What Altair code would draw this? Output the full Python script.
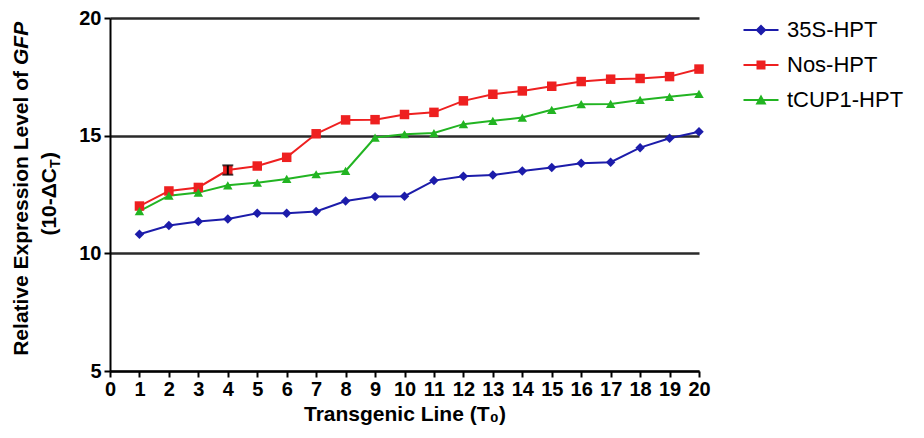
import altair as alt
import pandas as pd

# ---------------- data ----------------
lines_x = list(range(1, 21))
series_names = ["35S-HPT", "Nos-HPT", "tCUP1-HPT"]
vals_35s = [10.81, 11.18, 11.35, 11.46, 11.70, 11.70, 11.78, 12.22, 12.41, 12.43,
            13.09, 13.28, 13.33, 13.50, 13.65, 13.83, 13.87, 14.49, 14.89, 15.17]
vals_nos = [12.01, 12.65, 12.80, 13.54, 13.71, 14.08, 15.08, 15.67, 15.68, 15.90,
            15.99, 16.48, 16.76, 16.90, 17.10, 17.30, 17.40, 17.43, 17.51, 17.83]
vals_tcup = [11.79, 12.45, 12.58, 12.89, 13.00, 13.16, 13.36, 13.50, 14.92, 15.06,
             15.11, 15.49, 15.63, 15.77, 16.10, 16.34, 16.35, 16.52, 16.65, 16.78]
err_line = [4]
err_center = [13.54]
err_half = [0.2]
x_ticks = list(range(0, 21))
y_ticks = [5, 10, 15, 20]

x_title = "Transgenic Line (T₀)"
y_title_main = ["Relative Expression Level of"]
y_title_ital = ["GFP"]
y_title2_main = ["(10-ΔC"]
y_title2_sub = ["T"]
y_title2_close = [")"]

colors = ["#1C1CAA", "#EE2020", "#22B422"]
point_shapes = ["diamond", "square", "triangle-up"]
legend_shapes = [
    "M-1.75,-0.1H1.75V0.1H-1.75Z M0,-0.55L0.55,0L0,0.55L-0.55,0Z",
    "M-1.75,-0.1H1.75V0.1H-1.75Z M-0.45,-0.45H0.45V0.45H-0.45Z",
    "M-1.75,-0.1H1.75V0.1H-1.75Z M0,-0.55L0.55,0.45L-0.55,0.45Z",
]

rows = []
for name, vals in zip(series_names, [vals_35s, vals_nos, vals_tcup]):
    for x, v in zip(lines_x, vals):
        rows.append({"line": x, "value": v, "series": name})
df = pd.DataFrame(rows)

err_df = pd.DataFrame({
    "line": err_line,
    "value": [c - h for c, h in zip(err_center, err_half)],
    "hi": [c + h for c, h in zip(err_center, err_half)],
})

FONT = "Liberation Sans"

x_axis = alt.Axis(values=x_ticks, title=x_title, grid=False, format="d",
                  labelFontSize=20, titleFontSize=21, labelPadding=2,
                  titlePadding=4, labelOverlap=False, labelFlush=False)
y_axis = alt.Axis(values=y_ticks, title=None, grid=True, format="d",
                  labelFontSize=20, labelPadding=3, labelOverlap=False)
x_scale = alt.Scale(domain=[0, 20], nice=False, zero=False)
y_scale = alt.Scale(domain=[5, 20], nice=False, zero=False)
x_main = alt.X("line:Q", scale=x_scale, axis=x_axis)
y_main = alt.Y("value:Q", scale=y_scale, axis=y_axis)
x_plain = alt.X("line:Q", scale=x_scale, axis=None)
y_plain = alt.Y("value:Q", scale=y_scale, axis=None)
color_scale = alt.Scale(domain=series_names, range=colors)

base = alt.Chart(df)

lines = base.mark_line(strokeWidth=2).encode(
    x=x_main, y=y_main,
    color=alt.Color("series:N", scale=color_scale, legend=None),
)
points = base.mark_point(filled=True, size=90, opacity=1).encode(
    x=x_plain, y=y_plain,
    color=alt.Color("series:N", scale=color_scale, legend=None),
    shape=alt.Shape("series:N", scale=alt.Scale(domain=series_names, range=point_shapes),
                    legend=None),
)
errbar = alt.Chart(err_df).mark_errorbar(
    ticks={"size": 11, "thickness": 2, "color": "black"}, color="black", thickness=2
).encode(
    x=x_plain, y=y_plain, y2="hi:Q",
)

legend_kw = dict(title=None, orient="none", legendX=640, legendY=1,
                 labelFont=FONT, labelFontSize=22, labelColor="black",
                 labelOffset=15, rowPadding=13, symbolSize=400,
                 symbolStrokeWidth=0, padding=0)

legend_layer = base.transform_filter("datum.value < 0").mark_point(
    filled=True, size=400, opacity=1
).encode(
    x=x_plain, y=y_plain,
    color=alt.Color("series:N", scale=color_scale, legend=alt.Legend(**legend_kw)),
    shape=alt.Shape("series:N", scale=alt.Scale(domain=series_names, range=legend_shapes),
                    legend=alt.Legend(**legend_kw)),
)


def txt(values, align, y, x, size=21, dx=0, dy=0, style="normal"):
    return alt.Chart(pd.DataFrame({"t": values})).mark_text(
        angle=270, align=align, baseline="middle", font=FONT, fontSize=size,
        fontWeight="bold", fontStyle=style, color="black", dx=dx, dy=dy
    ).encode(x=alt.value(x), y=alt.value(y), text="t:N")


t1 = txt(y_title_main, "right", 53, -88)
t2 = txt(y_title_ital, "left", 53, -88, dx=6, style="italic")
t3 = txt(y_title2_main, "right", 150, -60)
t4 = txt(y_title2_sub, "left", 150, -60, size=14, dy=6)
t5 = txt(y_title2_close, "left", 150, -60, dx=9)

chart = alt.layer(
    lines, points, errbar, legend_layer, t1, t2, t3, t4, t5
).resolve_scale(shape="independent").resolve_legend(
    color="independent", shape="independent"
).resolve_axis(x="independent", y="independent").properties(
    width=589, height=353,
    autosize=alt.AutoSizeParams(type="none"),
    padding={"left": 102, "top": 10, "right": 217, "bottom": 59},
).configure_view(stroke=None).configure_axis(
    labelFont=FONT, titleFont=FONT, labelFontWeight="bold", titleFontWeight="bold",
    labelColor="black", titleColor="black", domainColor="black", domainWidth=2,
    tickColor="black", tickWidth=2, tickSize=6, gridColor="#2a2a2a", gridWidth=2.5,
    gridOpacity=1, labelOverlap=False,
)

chart.save("out.html", embed_options={"renderer": "svg", "actions": False})
